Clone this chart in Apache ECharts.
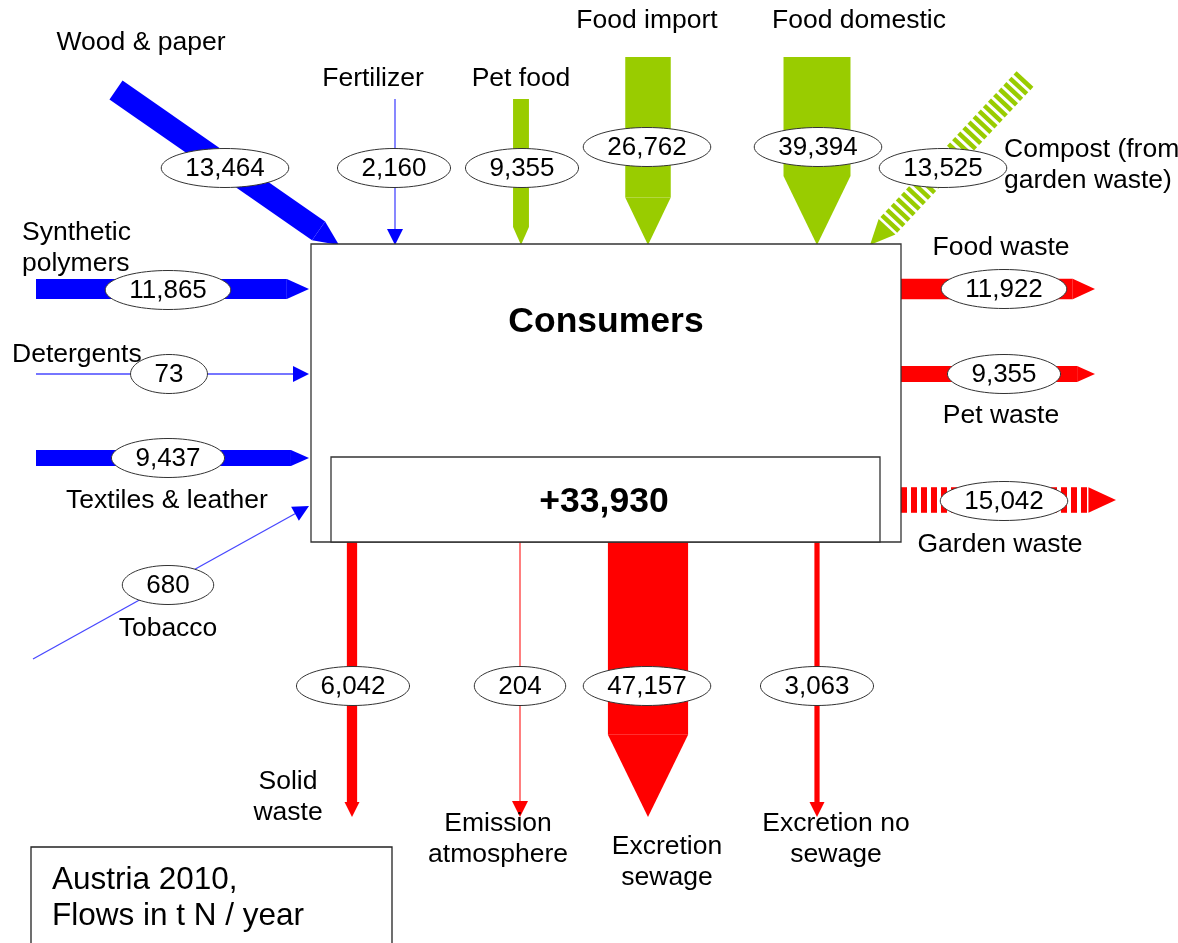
<!DOCTYPE html>
<html>
<head>
<meta charset="utf-8">
<script src="https://cdn.jsdelivr.net/npm/echarts@6/dist/echarts.min.js"></script>
<style>
html, body { margin: 0; padding: 0; background: #fff; }
#chart { width: 1178px; height: 943px; }
</style>
</head>
<body>
<div id="chart"></div>
<script>
// nitrogen flows through the consumers process, Austria 2010 (t N / year)
const flowNames = [
  "Wood & paper", "Fertilizer", "Pet food", "Food import", "Food domestic",
  "Compost (from\ngarden waste)", "Synthetic\npolymers", "Detergents",
  "Textiles & leather", "Tobacco", "Food waste", "Pet waste", "Garden waste",
  "Solid\nwaste", "Emission\natmosphere", "Excretion\nsewage", "Excretion no\nsewage"
];
const flowValues = [
  13464, 2160, 9355, 26762, 39394,
  13525, 11865, 73,
  9437, 680, 11922, 9355, 15042,
  6042, 204, 47157, 3063
];
const flowGroups = [
  "material", "material", "food", "food", "food",
  "food", "material", "material",
  "material", "material", "loss", "loss", "loss",
  "loss", "loss", "loss", "loss"
];
const processName = "Consumers";
const stockChange = 33930;
const noteLines = ["Austria 2010,", "Flows in t N / year"];

// layout in diagram units (x right, y down): arrow start -> arrow tip
const flowPath = [
  [116, 90, 339, 245], [395, 99, 395, 245], [521, 99, 521, 245], [648, 57, 648, 245], [817, 57, 817, 245],
  [1025, 79, 870, 245], [36, 289, 309, 289], [36, 374, 309, 374],
  [36, 458, 309, 458], [33, 659, 309, 506], [901, 289, 1095, 289], [901, 374, 1095, 374], [901, 500, 1116, 500],
  [352, 542, 352, 817], [520, 542, 520, 817], [648, 542, 648, 817], [817, 542, 817, 817]
];
const valueAt = [
  [225, 168], [394, 168], [522, 168], [647, 147], [818, 147],
  [943, 168], [168, 290], [169, 374],
  [168, 458], [168, 585], [1004, 289], [1004, 374], [1004, 501],
  [353, 686], [520, 686], [647, 686], [817, 686]
];
const nameAt = [
  [141, 43, "center"], [373, 79, "center"], [521, 79, "center"], [647, 21, "center"], [859, 21, "center"],
  [1004, 165, "left"], [22, 248, "left"], [12, 355, "left"],
  [167, 501, "center"], [168, 629, "center"], [1001, 248, "center"], [1001, 416, "center"], [1000, 545, "center"],
  [288, 797, "center"], [498, 839, "center"], [667, 862, "center"], [836, 839, "center"]
];
const processBox = [311, 244, 901, 542];
const stockBox = [331, 457, 880, 542];
const noteBox = [31, 847, 392, 970];

const groupColor = { material: "#0000ff", food: "#99cc00", loss: "#ff0000" };
const thinColor = { material: "#4848ff", food: "#99cc00", loss: "#ff3a3a" };
const flowDash = { 5: [4.5, 3], 12: [6, 4] };
const FONT = "'Liberation Sans', Arial, sans-serif";

function flowWidth(v) {
  return v < 2500 ? 0 : v * 0.0017;
}

const fmt = v => v.toLocaleString("en-US");

const measureCtx = document.createElement("canvas").getContext("2d");
function textWidth(t, size) {
  measureCtx.font = size + "px " + FONT;
  return measureCtx.measureText(t).width;
}

function renderFlow(params, api) {
  const i = api.value(0);
  const v = api.value(1);
  const p = flowPath[i];
  const a = api.coord([p[0], p[1]]);
  const b = api.coord([p[2], p[3]]);
  const dx = b[0] - a[0], dy = b[1] - a[1];
  const len = Math.hypot(dx, dy);
  const ux = dx / len, uy = dy / len;
  const nx = -uy, ny = ux;
  const color = groupColor[flowGroups[i]];
  const w = flowWidth(v);
  const hl = w ? Math.max(w + 2, 15) : 16;
  const hb = w ? Math.max(w, 15) : 16;
  const bodyLen = len - hl;
  const at = (s, off) => [a[0] + ux * s + nx * off, a[1] + uy * s + ny * off];
  const children = [];

  if (!w) {
    children.push({
      type: "line",
      shape: { x1: a[0], y1: a[1], x2: at(bodyLen, 0)[0], y2: at(bodyLen, 0)[1] },
      style: { stroke: thinColor[flowGroups[i]], lineWidth: 1.3 }
    });
  } else if (flowDash[i]) {
    const on = flowDash[i][0], off = flowDash[i][1];
    for (let s = 0; s < bodyLen; s += on + off) {
      const e = Math.min(s + on, bodyLen);
      children.push({
        type: "polygon",
        shape: { points: [at(s, w / 2), at(e, w / 2), at(e, -w / 2), at(s, -w / 2)] },
        style: { fill: color }
      });
    }
  } else {
    children.push({
      type: "polygon",
      shape: { points: [at(0, w / 2), at(bodyLen, w / 2), at(bodyLen, -w / 2), at(0, -w / 2)] },
      style: { fill: color }
    });
  }
  children.push({
    type: "polygon",
    shape: { points: [at(bodyLen, hb / 2), b, at(bodyLen, -hb / 2)] },
    style: { fill: color }
  });
  return { type: "group", children };
}

function renderValue(params, api) {
  const i = api.value(0);
  const c = api.coord(valueAt[i]);
  const txt = fmt(api.value(1));
  const rx = (textWidth(txt, 26) + 48) / 2, ry = 19.5;
  const pts = [];
  for (let k = 0; k < 72; k++) {
    const t = (k / 72) * Math.PI * 2;
    pts.push([c[0] + rx * Math.cos(t), c[1] + ry * Math.sin(t)]);
  }
  return {
    type: "group",
    children: [
      { type: "polygon", shape: { points: pts }, style: { fill: "#fff", stroke: "#333", lineWidth: 1 } },
      {
        type: "text", x: c[0], y: c[1] + 1,
        style: { text: txt, fill: "#000", fontSize: 26, fontFamily: FONT, align: "center", verticalAlign: "middle" }
      }
    ]
  };
}

function renderName(params, api) {
  const i = api.value(0);
  const n = nameAt[i];
  const c = api.coord([n[0], n[1]]);
  return {
    type: "text", x: c[0], y: c[1],
    style: {
      text: flowNames[i], fill: "#000", fontSize: 26.5, fontFamily: FONT,
      align: n[2], verticalAlign: "middle", lineHeight: 31
    }
  };
}

function renderProcess(params, api) {
  const rectOf = r => {
    const p0 = api.coord([r[0], r[1]]);
    const p1 = api.coord([r[2], r[3]]);
    return { x: p0[0], y: p0[1], width: p1[0] - p0[0], height: p1[1] - p0[1] };
  };
  const outer = rectOf(processBox);
  const inner = rectOf(stockBox);
  const note = rectOf(noteBox);
  const title = api.coord([606, 322]);
  const stock = api.coord([604, 502]);
  const noteText = api.coord([52, 898]);
  return {
    type: "group",
    children: [
      { type: "rect", shape: outer, style: { fill: "#fff", stroke: "#333", lineWidth: 1.3 } },
      { type: "rect", shape: inner, style: { fill: "#fff", stroke: "#333", lineWidth: 1.3 } },
      {
        type: "text", x: title[0], y: title[1],
        style: { text: processName, fill: "#000", fontSize: 35.5, fontWeight: "bold", fontFamily: FONT, align: "center", verticalAlign: "middle" }
      },
      {
        type: "text", x: stock[0], y: stock[1],
        style: { text: "+" + fmt(stockChange), fill: "#000", fontSize: 35.5, fontWeight: "bold", fontFamily: FONT, align: "center", verticalAlign: "middle" }
      },
      { type: "rect", shape: note, style: { fill: "#fff", stroke: "#222", lineWidth: 1.3 } },
      {
        type: "text", x: noteText[0], y: noteText[1],
        style: { text: noteLines.join("\n"), fill: "#000", fontSize: 31.5, fontFamily: FONT, align: "left", verticalAlign: "middle", lineHeight: 36 }
      }
    ]
  };
}

const flowData = flowValues.map((v, i) => [i, v]);

const chart = echarts.init(document.getElementById("chart"), null, { renderer: "canvas" });
chart.setOption({
  backgroundColor: "#fff",
  animation: false,
  grid: { left: 0, right: 0, top: 0, bottom: 0 },
  xAxis: { type: "value", min: 0, max: 1178, show: false },
  yAxis: { type: "value", min: 0, max: 943, inverse: true, show: false },
  series: [
    { type: "custom", name: "flows", z: 1, clip: false, renderItem: renderFlow, data: flowData },
    { type: "custom", name: "process", z: 2, clip: false, renderItem: renderProcess, data: [[0, 0]] },
    { type: "custom", name: "values", z: 3, clip: false, renderItem: renderValue, data: flowData },
    { type: "custom", name: "names", z: 4, clip: false, renderItem: renderName, data: flowData }
  ]
});
</script>
</body>
</html>
